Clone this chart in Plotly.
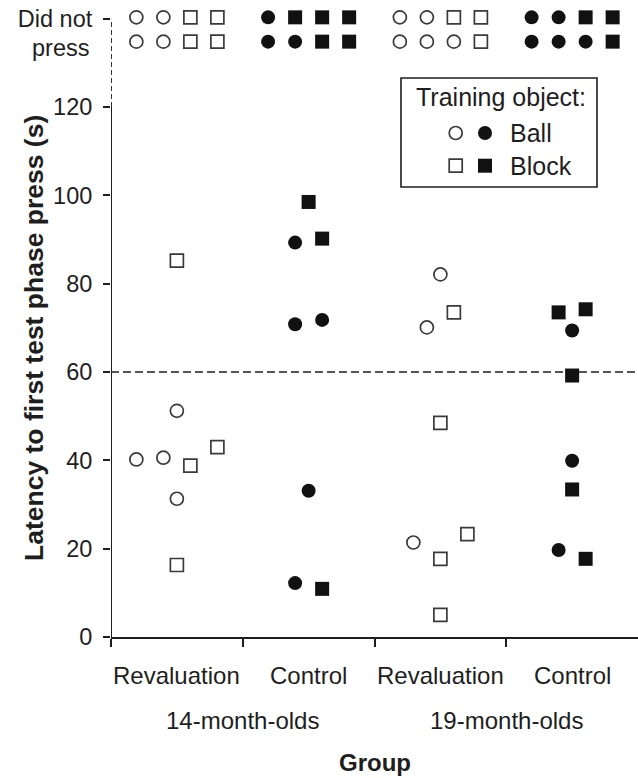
import plotly.graph_objects as go

# ---------------- data ----------------
conditions = ["Revaluation", "Control", "Revaluation", "Control"]
age_groups = ["14-month-olds", "19-month-olds"]
y_tick_values = [0, 20, 40, 60, 80, 100, 120, 140]
y_tick_labels = ["0", "20", "40", "60", "80", "100", "120", "Did not"]
criterion_latency = 60
dnp_row_levels = [140.3, 134.8]          # the two stacked "did not press" rows

# pressed latencies (s), training object, and horizontal jitter step
lat_14_reval = [85.2, 51.2, 40.2, 40.6, 38.8, 43.0, 31.3, 16.3]
obj_14_reval = ["Block", "Ball", "Ball", "Ball", "Block", "Block", "Ball", "Block"]
jit_14_reval = [0, 0, -3, -1, 1, 3, 0, 0]

lat_14_ctrl = [98.5, 89.3, 90.2, 70.8, 71.8, 33.1, 12.2, 10.9]
obj_14_ctrl = ["Block", "Ball", "Block", "Ball", "Ball", "Ball", "Ball", "Block"]
jit_14_ctrl = [0, -1, 1, -1, 1, 0, -1, 1]

lat_19_reval = [82.1, 73.5, 70.1, 48.5, 21.4, 23.3, 17.7, 5.0]
obj_19_reval = ["Ball", "Block", "Ball", "Block", "Ball", "Block", "Block", "Block"]
jit_19_reval = [0, 1, -1, 0, -2, 2, 0, 0]

lat_19_ctrl = [73.5, 74.2, 69.4, 59.2, 39.9, 33.4, 19.7, 17.7]
obj_19_ctrl = ["Block", "Block", "Ball", "Block", "Ball", "Block", "Ball", "Block"]
jit_19_ctrl = [-1, 1, 0, 0, 0, 0, -1, 1]

# infants who did not press (two rows per group)
dnp_14_reval = [["Ball", "Ball", "Block", "Block"], ["Ball", "Ball", "Block", "Block"]]
dnp_14_ctrl = [["Ball", "Block", "Block", "Block"], ["Ball", "Ball", "Block", "Block"]]
dnp_19_reval = [["Ball", "Ball", "Block", "Block"], ["Ball", "Ball", "Ball", "Block"]]
dnp_19_ctrl = [["Ball", "Ball", "Block", "Block"], ["Ball", "Ball", "Ball", "Block"]]
dnp_jitter = [-3, -1, 1, 3]

groups = [
    (lat_14_reval, obj_14_reval, jit_14_reval, dnp_14_reval, False),
    (lat_14_ctrl, obj_14_ctrl, jit_14_ctrl, dnp_14_ctrl, True),
    (lat_19_reval, obj_19_reval, jit_19_reval, dnp_19_reval, False),
    (lat_19_ctrl, obj_19_ctrl, jit_19_ctrl, dnp_19_ctrl, True),
]

# ---------------- style / layout ----------------
W, H = 638, 778
ML, MR, MT, MB = 111, 0, 1, 141
Y_MAX = 144
X_MAX = 4
JIT = 0.1025
FONT = "Liberation Sans, Arial, Helvetica, sans-serif"
INK = "#1e1e1e"
FS = 24
FS_TICK = 23.5
FS_TITLE = 26.5
FS_LEG = 25
CIRC_SIZE = 13
SQ_SIZE = 13
OPEN_LW = 1.7

plot_w = W - ML - MR
plot_h = H - MT - MB


def px_x(px):
    return (px - ML) / plot_w * X_MAX


def px_y(py):
    return (H - MB - py) / plot_h * Y_MAX


def marker(obj, filled):
    sym = "circle" if obj == "Ball" else "square"
    size = CIRC_SIZE if obj == "Ball" else SQ_SIZE
    if filled:
        return dict(symbol=sym, size=size + 1, color="#111111", line=dict(width=0))
    return dict(symbol=sym, size=size, color="white", line=dict(width=OPEN_LW, color="#3a3a3a"))


fig = go.Figure()

for gi, (lats, objs, jits, dnp, filled) in enumerate(groups):
    center = gi + 0.5
    for obj in ["Ball", "Block"]:
        xs = [center + j * JIT for v, o, j in zip(lats, objs, jits) if o == obj]
        ys = [v for v, o in zip(lats, objs) if o == obj]
        for row_level, row in zip(dnp_row_levels, dnp):
            for o, j in zip(row, dnp_jitter):
                if o == obj:
                    xs.append(center + j * JIT)
                    ys.append(row_level)
        fig.add_trace(go.Scatter(x=xs, y=ys, mode="markers", marker=marker(obj, filled),
                                 showlegend=False, hoverinfo="skip"))

# manual legend keys
leg_x_open, leg_x_fill = px_x(455.7), px_x(485)
leg_y_ball, leg_y_block = px_y(133), px_y(165.7)
for obj, ly in [("Ball", leg_y_ball), ("Block", leg_y_block)]:
    fig.add_trace(go.Scatter(x=[leg_x_open], y=[ly], mode="markers", marker=marker(obj, False),
                             showlegend=False, hoverinfo="skip"))
    fig.add_trace(go.Scatter(x=[leg_x_fill], y=[ly], mode="markers", marker=marker(obj, True),
                             showlegend=False, hoverinfo="skip"))

shapes = [
    # criterion line
    dict(type="line", xref="x", yref="y", x0=0, x1=X_MAX, y0=criterion_latency, y1=criterion_latency,
         line=dict(color=INK, width=1.7, dash="8px,4px"), layer="below"),
    # y axis: solid to 120, dashed break to "Did not press"
    dict(type="line", xref="x", yref="y", x0=0, x1=0, y0=0, y1=y_tick_values[-2],
         line=dict(color=INK, width=2)),
    dict(type="line", xref="x", yref="y", x0=0, x1=0, y0=y_tick_values[-2], y1=y_tick_values[-1],
         line=dict(color=INK, width=1.8, dash="5px,3px")),
    # legend box
    dict(type="rect", xref="x", yref="y", x0=px_x(401), x1=px_x(597), y0=px_y(187), y1=px_y(78),
         line=dict(color=INK, width=1.6), fillcolor="rgba(0,0,0,0)", layer="below"),
]

annotations = []
for i, c in enumerate(conditions):
    annotations.append(dict(text=c, xref="x", yref="paper", x=i + 0.5, y=0, yshift=-38,
                            yanchor="middle", xanchor="center", showarrow=False,
                            font=dict(family=FONT, size=FS, color=INK)))
for i, a in enumerate(age_groups):
    annotations.append(dict(text=a, xref="x", yref="paper", x=2 * i + 1, y=0, yshift=-83,
                            yanchor="middle", xanchor="center", showarrow=False,
                            font=dict(family=FONT, size=FS, color=INK)))
annotations.append(dict(text="<b>Group</b>", xref="x", yref="paper", x=2, y=0, yshift=-125,
                        yanchor="middle", xanchor="center", showarrow=False,
                        font=dict(family=FONT, size=FS, color=INK)))
annotations.append(dict(text="<b>Latency to first test phase press (s)</b>", xref="paper", yref="paper",
                        x=0, xshift=-(ML - 34), y=(H - MB - 338) / plot_h, textangle=-90,
                        xanchor="center", yanchor="middle", showarrow=False,
                        font=dict(family=FONT, size=FS_TITLE, color=INK)))
annotations.append(dict(text="press", xref="paper", yref="y", x=0, xshift=-20, y=y_tick_values[-1],
                        yshift=-29, xanchor="right", yanchor="middle", showarrow=False,
                        font=dict(family=FONT, size=FS_TICK, color=INK)))
# legend text
annotations.append(dict(text="Training object:", xref="x", yref="y", x=px_x(501), y=px_y(96.7),
                        xanchor="center", yanchor="middle", showarrow=False,
                        font=dict(family=FONT, size=FS_LEG, color=INK)))
annotations.append(dict(text="Ball", xref="x", yref="y", x=px_x(508), y=leg_y_ball,
                        xanchor="left", yanchor="middle", showarrow=False,
                        font=dict(family=FONT, size=FS_LEG, color=INK)))
annotations.append(dict(text="Block", xref="x", yref="y", x=px_x(508), y=leg_y_block,
                        xanchor="left", yanchor="middle", showarrow=False,
                        font=dict(family=FONT, size=FS_LEG, color=INK)))

fig.update_layout(
    width=W, height=H,
    margin=dict(l=ML, r=MR, t=MT, b=MB, pad=0),
    paper_bgcolor="white", plot_bgcolor="white",
    font=dict(family=FONT, size=FS, color=INK),
    shapes=shapes, annotations=annotations,
    xaxis=dict(range=[0, X_MAX], showgrid=False, zeroline=False, showline=True,
               linecolor=INK, linewidth=2, ticks="outside", ticklen=8, tickwidth=1.6,
               tickcolor=INK, tickvals=[0, 1, 2, 3], showticklabels=False, fixedrange=True),
    yaxis=dict(range=[0, Y_MAX], showgrid=False, zeroline=False, showline=False,
               ticks="outside", ticklen=7, tickwidth=1.6, tickcolor=INK,
               tickvals=y_tick_values, ticktext=y_tick_labels, ticklabelstandoff=6,
               tickfont=dict(family=FONT, size=FS_TICK, color=INK), fixedrange=True),
    showlegend=False,
)

fig.write_html("out.html")
